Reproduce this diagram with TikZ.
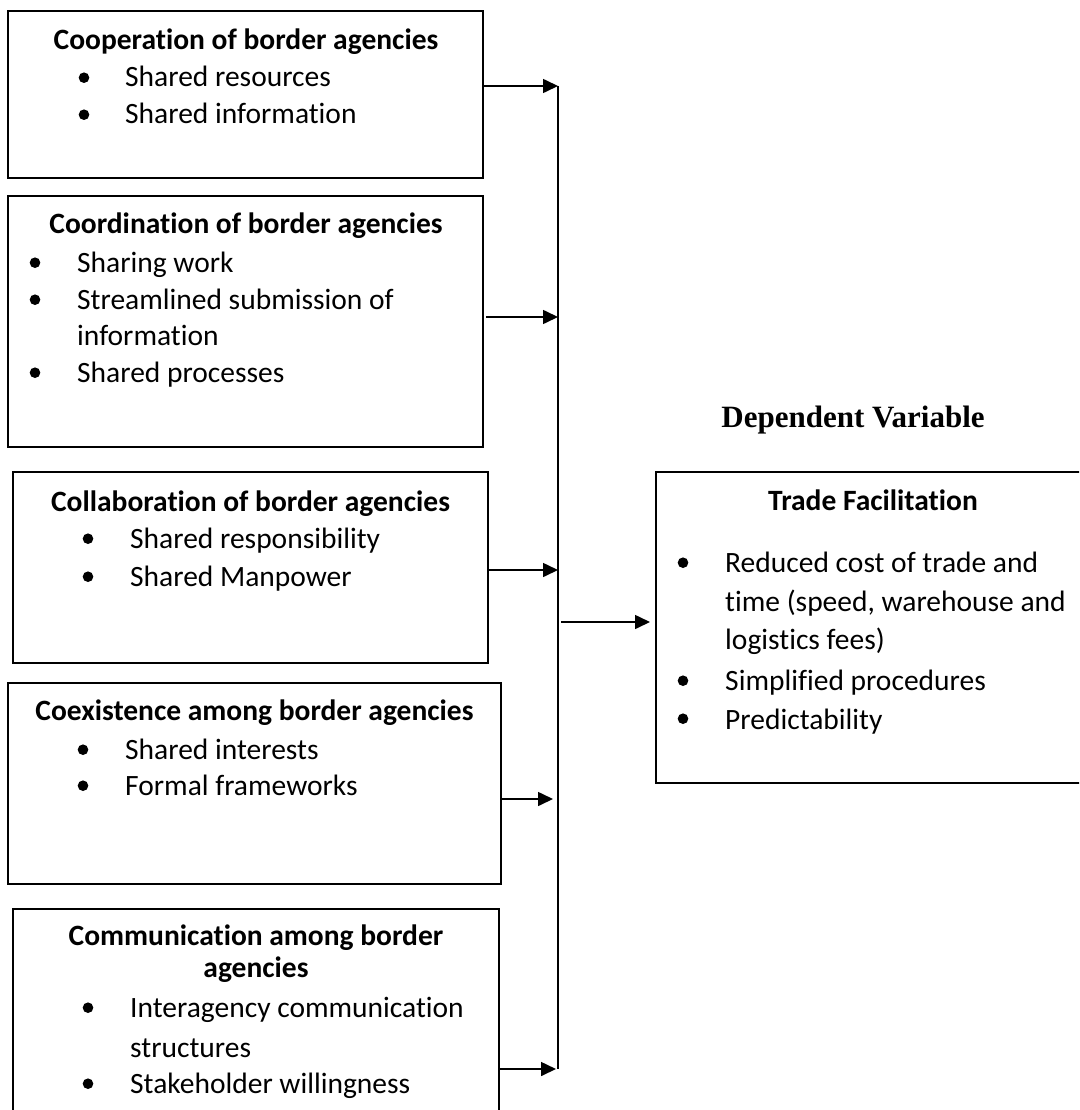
\documentclass[tikz,border=0pt]{standalone}
\usepackage{fontspec}
\setmainfont{Carlito}[Ligatures={NoCommon}]
\newfontfamily\tnrfont{Liberation Serif}
\usetikzlibrary{arrows.meta}
\begin{document}
\begin{tikzpicture}[x=1pt,y=-1pt,
  box/.style={draw, line width=1.7pt, outer sep=0pt, inner sep=0pt},
  txt/.style={anchor=base west, inner sep=0pt, font=\fontsize{29.5}{36}\selectfont},
  ttl/.style={anchor=base, inner sep=0pt, font=\fontsize{29.5}{36}\selectfont\bfseries},
  con/.style={line width=1.6pt, -{Triangle[length=15pt,width=14pt]}},
  bus/.style={line width=1.6pt},
  dot/.style={circle, fill=black, inner sep=0pt, minimum size=10.6pt},
  ]
\useasboundingbox (0,0) rectangle (1079,1110);
\clip (0,0) rectangle (1079,1110);

% boxes
\node[box, minimum width=475pt, minimum height=167pt] (b1) at (245.5,94.5) {};
\node[box, minimum width=475pt, minimum height=251pt] (b2) at (245.5,321.5) {};
\node[box, minimum width=475pt, minimum height=191pt] (b3) at (250.5,567.5) {};
\node[box, minimum width=493pt, minimum height=201pt] (b4) at (254.5,783.5) {};
\node[box, minimum width=486pt, minimum height=221pt] (b5) at (256,1019.5) {};
\node[box, minimum width=444pt, minimum height=311pt] (rb) at (878,627.5) {};

% box 1
\node[ttl] (t1) at (246,50) {Cooperation of border agencies};
\node[dot] (d11) at (84,77.7) {};
\node[dot] (d12) at (84,114.7) {};
\node[txt] (l11) at (125,87) {Shared resources};
\node[txt] (l12) at (125,124) {Shared information};

% box 2
\node[ttl] (t2) at (246,233) {Coordination of border agencies};
\node[dot] (d21) at (35,262.7) {};
\node[dot] (d22) at (35,299.7) {};
\node[dot] (d23) at (35,372.7) {};
\node[txt] (l21) at (77,272) {Sharing work};
\node[txt] (l22) at (77,309) {Streamlined submission of};
\node[txt] (l23) at (77,345) {information};
\node[txt] (l24) at (77,382) {Shared processes};

% box 3
\node[ttl] (t3) at (250.5,511) {Collaboration of border agencies};
\node[dot] (d31) at (88,538.7) {};
\node[dot] (d32) at (88,576.7) {};
\node[txt] (l31) at (130,548) {Shared responsibility};
\node[txt] (l32) at (130,586) {Shared Manpower};

% box 4
\node[ttl] (t4) at (254.5,720) {Coexistence among border agencies};
\node[dot] (d41) at (83,749.7) {};
\node[dot] (d42) at (83,785.7) {};
\node[txt] (l41) at (125,759) {Shared interests};
\node[txt] (l42) at (125,795) {Formal frameworks};

% box 5
\node[ttl] (t5a) at (256,945) {Communication among border};
\node[ttl] (t5b) at (256,977) {agencies};
\node[dot] (d51) at (88,1007.7) {};
\node[dot] (d52) at (88,1083.7) {};
\node[txt] (l51) at (130,1017) {Interagency communication};
\node[txt] (l52) at (130,1057) {structures};
\node[txt] (l53) at (130,1093) {Stakeholder willingness};

% right box
\node[anchor=base, inner sep=0pt, font=\tnrfont\fontsize{31}{36}\selectfont\bfseries] (dv) at (853,427) {Dependent Variable};
\node[ttl, anchor=base west] (tr) at (768,510) {Trade Facilitation};
\node[dot] (dr1) at (683,562.7) {};
\node[dot] (dr2) at (683,680.7) {};
\node[dot] (dr3) at (683,718.7) {};
\node[txt] (lr1) at (725,572) {Reduced cost of trade and};
\node[txt] (lr2) at (725,611) {time (speed, warehouse and};
\node[txt] (lr3) at (725,649) {logistics fees)};
\node[txt] (lr4) at (725,690) {Simplified procedures};
\node[txt] (lr5) at (725,729) {Predictability};

% connectors
\coordinate (j1) at (558,86);
\coordinate (j2) at (558,317);
\coordinate (j3) at (558,570);
\coordinate (j4) at (553,799);
\coordinate (j5) at (556,1069);
\coordinate (top) at (558,86);
\coordinate (bot) at (558,1069);
\coordinate (o1) at (561,622);

\draw[bus] (top) -- (bot);
\draw[con] (b1.east |- j1) -- (j1);
\draw[con, shorten <=3pt] (b2.east |- j2) -- (j2);
\draw[con] (b3.east |- j3) -- (j3);
\draw[con] (b4.east |- j4) -- (j4);
\draw[con] (b5.east |- j5) -- (j5);
\draw[con, shorten >=6pt] (o1) -- (rb.west |- o1);
\end{tikzpicture}
\end{document}
